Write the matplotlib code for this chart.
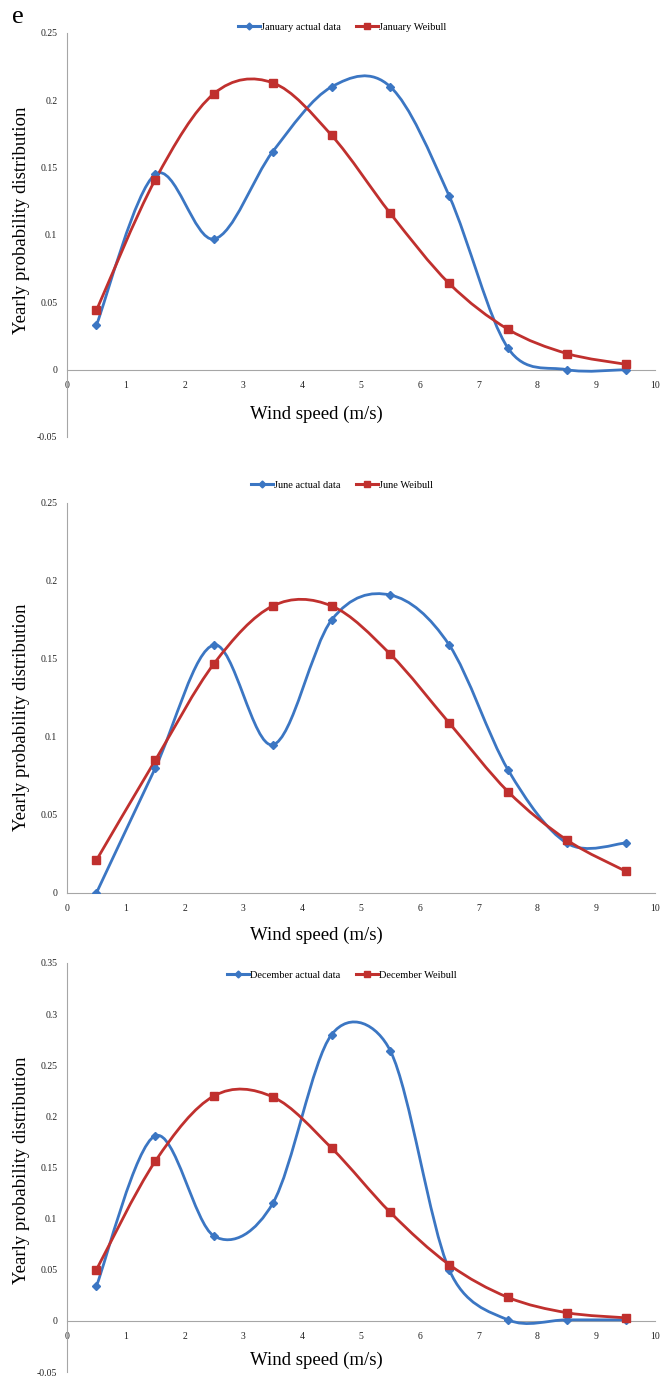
import numpy as np
import matplotlib
matplotlib.use("Agg")
import matplotlib.pyplot as plt
from matplotlib.path import Path
from matplotlib.patches import PathPatch
from matplotlib.lines import Line2D

plt.rcParams['font.family'] = ['Liberation Serif', 'DejaVu Serif']

wind = [0.5, 1.5, 2.5, 3.5, 4.5, 5.5, 6.5, 7.5, 8.5, 9.5]

jan_actual = [0.033, 0.145, 0.097, 0.162, 0.210, 0.210, 0.129, 0.016, 0.000, 0.000]
jan_weibull = [0.044, 0.141, 0.205, 0.213, 0.174, 0.116, 0.064, 0.030, 0.012, 0.004]

jun_actual = [0.000, 0.080, 0.159, 0.095, 0.175, 0.191, 0.159, 0.079, 0.032, 0.032]
jun_weibull = [0.021, 0.085, 0.147, 0.184, 0.184, 0.153, 0.109, 0.065, 0.034, 0.014]

dec_actual = [0.034, 0.181, 0.083, 0.115, 0.280, 0.264, 0.050, 0.001, 0.001, 0.001]
dec_weibull = [0.050, 0.156, 0.220, 0.219, 0.169, 0.106, 0.055, 0.023, 0.008, 0.003]

months = ["January", "June", "December"]

BLUE = '#3b76c3'
RED = '#c0302e'
GRAY = '#a6a6a6'

W, H = 662, 1384
fig = plt.figure(figsize=(W / 100, H / 100), dpi=100)


def smooth_path(ax, xs, ys):
    """Excel-like smoothed line: Bezier segments, control arms capped by segment length."""
    pts = ax.transData.transform(np.column_stack([xs, ys]))
    n = len(pts)
    verts = [pts[0]]
    codes = [Path.MOVETO]
    for i in range(n - 1):
        p0 = pts[max(i - 1, 0)]
        p1 = pts[i]
        p2 = pts[i + 1]
        p3 = pts[min(i + 2, n - 1)]
        d02 = np.linalg.norm(p2 - p0)
        d12 = np.linalg.norm(p2 - p1)
        d13 = np.linalg.norm(p3 - p1)
        f1 = 1 / 6 if d02 / 6 < d12 / 2 else d12 / (2 * d02)
        f2 = 1 / 6 if d13 / 6 < d12 / 2 else d12 / (2 * d13)
        c1 = p1 + (p2 - p0) * f1
        c2 = p2 - (p3 - p1) * f2
        verts += [c1, c2, p2]
        codes += [Path.CURVE4] * 3
    verts = ax.transData.inverted().transform(np.array(verts))
    return Path(verts, codes)


def make_ax(top, bottom, ymin, ymax, yticks, ylabels):
    left, right = 67, 655
    ax = fig.add_axes([left / W, 1 - bottom / H, (right - left) / W, (bottom - top) / H])
    ax.set_xlim(0, 10)
    ax.set_ylim(ymin, ymax)
    for s in ['top', 'right']:
        ax.spines[s].set_visible(False)
    ax.spines['left'].set_color(GRAY)
    ax.spines['bottom'].set_color(GRAY)
    ax.spines['bottom'].set_position(('data', 0))
    ax.set_xticks(range(0, 11))
    ax.set_xticklabels([str(i) for i in range(0, 11)])
    ax.set_yticks(yticks)
    ax.set_yticklabels(ylabels)
    ax.tick_params(axis='both', length=0, labelsize=7, colors='#222222')
    ax.tick_params(axis='x', pad=8)
    ax.tick_params(axis='y', pad=7)
    ax.patch.set_alpha(0)
    return ax


def draw(ax, actual, weib):
    for ys, col, mk, ms in [(actual, BLUE, 'D', 4), (weib, RED, 's', 6)]:
        p = PathPatch(smooth_path(ax, wind, ys), facecolor='none', edgecolor=col,
                      lw=2.0, zorder=3, capstyle='round', joinstyle='round')
        ax.add_patch(p)
        ax.plot(wind, ys, linestyle='none', color=col, marker=mk, markersize=ms,
                markeredgecolor=col, zorder=4)


def legend(month, ypix):
    h = [Line2D([], [], color=BLUE, lw=2.2, marker='D', markersize=3.5),
         Line2D([], [], color=RED, lw=2.2, marker='s', markersize=5)]
    fig.legend(h, [f'{month} actual data', f'{month} Weibull'], loc='center',
               bbox_to_anchor=(342 / W, 1 - ypix / H), ncol=2, frameon=False,
               fontsize=7.5, handlelength=2.1, handletextpad=0.1, columnspacing=1.5)


def labels(xlab_y, ylab_y):
    fig.text(316 / W, 1 - xlab_y / H, 'Wind speed (m/s)', ha='center', va='center',
             fontsize=13.5)
    fig.text(22 / W, 1 - ylab_y / H, 'Yearly probability distribution', rotation=90,
             ha='center', va='center', fontsize=13.5)


# Panel 1
ax1 = make_ax(33, 437, -0.05, 0.25, [-0.05, 0, 0.05, 0.1, 0.15, 0.2, 0.25],
              ['-0.05', '0', '0.05', '0.1', '0.15', '0.2', '0.25'])
draw(ax1, jan_actual, jan_weibull)
legend(months[0], 27)
labels(414, 220)
fig.text(12 / W, 1 - 17 / H, 'e', ha='left', va='center', fontsize=19)

# Panel 2
ax2 = make_ax(503, 893, 0, 0.25, [0, 0.05, 0.1, 0.15, 0.2, 0.25],
              ['0', '0.05', '0.1', '0.15', '0.2', '0.25'])
draw(ax2, jun_actual, jun_weibull)
legend(months[1], 485)
labels(935, 717)

# Panel 3
ax3 = make_ax(963, 1372, -0.05, 0.35, [-0.05, 0, 0.05, 0.1, 0.15, 0.2, 0.25, 0.3, 0.35],
              ['-0.05', '0', '0.05', '0.1', '0.15', '0.2', '0.25', '0.3', '0.35'])
draw(ax3, dec_actual, dec_weibull)
legend(months[2], 975)
labels(1360, 1170)

fig.savefig('out.png', dpi=100, facecolor='white')
